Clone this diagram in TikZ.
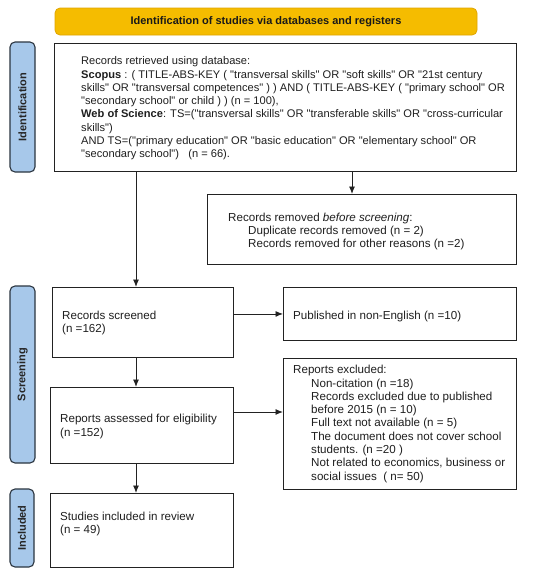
\documentclass[tikz,border=0pt]{standalone}
\usepackage{fontspec}
\setmainfont{Liberation Sans}
\newfontfamily\plainsans{Liberation Sans}
\usetikzlibrary{arrows.meta,positioning,calc}
\definecolor{banner}{HTML}{F5BC00}
\definecolor{bannerline}{HTML}{E0A500}
\definecolor{lblue}{HTML}{A7C8EA}
\definecolor{lline}{HTML}{2B3540}
\definecolor{boxline}{HTML}{222222}
\begin{document}
\begin{tikzpicture}[x=1pt,y=-1pt,
  box/.style={draw=boxline,line width=0.9pt,fill=white},
  side/.style={draw=lline,line width=1.1pt,fill=lblue,rounded corners=5pt},
  sidetext/.style={rotate=90,font=\plainsans\fontsize{11}{13}\selectfont\bfseries,text=black!85},
  txt/.style={anchor=west,align=left,inner sep=0pt,font=\plainsans\fontsize{11.6}{13.3}\selectfont,text=black!88},
  bigtxt/.style={txt,font=\plainsans\fontsize{11.1}{13.3}\selectfont},
  arr/.style={draw=boxline,line width=0.9pt,-{Latex[length=7.5pt,width=6pt]}}]
\useasboundingbox (0,0) rectangle (550,576);
\fill[white] (0,0) rectangle (550,576);
% banner
\draw[fill=banner,draw=bannerline,line width=0.8pt,rounded corners=5pt] (55,8) rectangle (477,35);
\node[font=\plainsans\fontsize{11}{13}\selectfont\bfseries,text=black!90] (bannertext) at (266,21.5) {Identification of studies via databases and registers};
% side labels
\draw[side] (10,42) rectangle (35,172);
\node[sidetext] (idl) at (22.5,107) {Identification};
\draw[side] (10,286) rectangle (35,463);
\node[sidetext] (scl) at (22.5,374.5) {Screening};
\draw[side] (10,489) rectangle (34,567);
\node[sidetext] (inl) at (22,528) {Included};
% boxes
\node[box,minimum width=462pt,minimum height=128pt,anchor=north west,inner sep=0pt] (rec) at (54,43) {};
\node[bigtxt] (rect) at ($(rec.west)+(27,1)$) {Records retrieved using database:\\
\textbf{Scopus} : ( TITLE-ABS-KEY ( "transversal skills" OR "soft skills" OR "21st century\\
skills" OR "transversal competences" ) ) AND ( TITLE-ABS-KEY ( "primary school" OR\\
"secondary school" or child ) ) (n = 100),\\
\textbf{Web of Science}: TS=("transversal skills" OR "transferable skills" OR "cross-curricular\\
skills")\\
AND TS=("primary education" OR "basic education" OR "elementary school" OR\\
"secondary school")\ \ \ (n = 66).};
\node[box,minimum width=309pt,minimum height=70pt,anchor=north west,inner sep=0pt] (rem) at (207,194) {};
\node[txt] (remt) at ($(rem.west)+(21,2)$) {Records removed \textit{before screening}:\\
\hspace*{20pt}Duplicate records removed (n = 2)\\
\hspace*{20pt}Records removed for other reasons (n =2)};
\node[box,minimum width=181pt,minimum height=70pt,anchor=north west,inner sep=0pt] (scr) at (52,287) {};
\node[txt] (scrt) at ($(scr.west)+(10,0.5)$) {Records screened\\(n =162)};
\node[box,minimum width=233pt,minimum height=53pt,anchor=north west,inner sep=0pt] (pub) at (283,287) {};
\node[txt] (pubt) at ($(pub.west)+(10,2.5)$) {Published in non-English (n =10)};
\node[box,minimum width=183pt,minimum height=76pt,anchor=north west,inner sep=0pt] (ass) at (50,387) {};
\node[txt] (asst) at ($(ass.west)+(10,1)$) {Reports assessed for eligibility\\(n =152)};
\node[box,minimum width=233pt,minimum height=131pt,anchor=north west,inner sep=0pt] (exc) at (283,358) {};
\node[txt] (exct) at ($(exc.west)+(10,0)$) {Reports excluded:\\
\hspace*{18pt}Non-citation (n =18)\\
\hspace*{18pt}Records excluded due to published\\
\hspace*{18pt}before 2015 (n = 10)\\
\hspace*{18pt}Full text not available (n = 5)\\
\hspace*{18pt}The document does not cover school\\
\hspace*{18pt}students. (n =20 )\\
\hspace*{18pt}Not related to economics, business or\\
\hspace*{18pt}social issues\ \ ( n= 50)};
\node[box,minimum width=183pt,minimum height=74pt,anchor=north west,inner sep=0pt] (inc) at (50,493) {};
\node[txt] (inct) at ($(inc.west)+(10,-6.5)$) {Studies included in review\\(n = 49)};
% connectors
\coordinate (r1) at (136,171);
\coordinate (r2) at (352,171);
\draw[arr] (r1) -- (r1 |- scr.north);
\draw[arr] (r2) -- (r2 |- rem.north);
\draw[arr] (scr.east |- pub.west) -- (pub.west);
\draw[arr] (136,357) -- (136,387);
\draw[arr] (136,463) -- (136,493);
\coordinate (a1) at (233,412);
\draw[arr] (a1) -- (a1 -| exc.west);
\end{tikzpicture}
\end{document}
